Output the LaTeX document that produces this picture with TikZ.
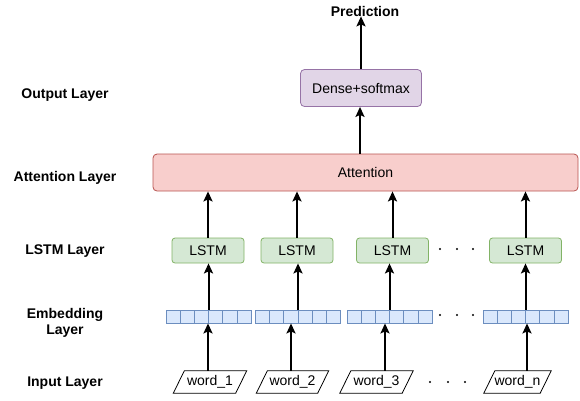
\documentclass[tikz,border=0pt]{standalone}
\usepackage{fontspec}
\setmainfont{Liberation Sans}
\usetikzlibrary{arrows.meta,shapes.geometric,calc}
\definecolor{pfill}{HTML}{E1D5E7}\definecolor{pline}{HTML}{9673A6}
\definecolor{rfill}{HTML}{F8CECC}\definecolor{rline}{HTML}{B85450}
\definecolor{gfill}{HTML}{D5E8D4}\definecolor{gline}{HTML}{82B366}
\definecolor{bfill}{HTML}{DAE8FC}\definecolor{bline}{HTML}{6C8EBF}
\begin{document}
\begin{tikzpicture}[x=1pt,y=-1pt,
  every node/.style={font=\fontsize{14}{16}\selectfont, inner sep=0pt},
  lab/.style={font=\fontsize{14}{16}\selectfont\bfseries, align=center},
  box/.style={draw, rounded corners=4pt, line width=0.8pt},
  densebox/.style={box, fill=pfill, draw=pline, minimum width=121pt, minimum height=37pt},
  attbox/.style={box, fill=rfill, draw=rline, minimum width=425pt, minimum height=37pt},
  lstmbox/.style={box, fill=gfill, draw=gline, minimum width=72pt, minimum height=25pt, rounded corners=3pt},
  embbox/.style={draw=bline, fill=bfill, line width=0.8pt, minimum width=85pt, minimum height=13pt},
  embline/.style={draw=bline, line width=0.8pt},
  wordbox/.style={minimum height=22pt},
  wordedge/.style={draw, line width=0.8pt},
  arr/.style={line width=2pt, -{Stealth[length=10pt,width=9pt,inset=2pt]}},
  dot/.style={circle, fill=black, minimum size=2.4pt}
]
\useasboundingbox (0,0) rectangle (580,400);
% layer labels
\node[lab] (lout) at (65,95) {Output Layer};
\node[lab] (latt) at (65,178) {Attention Layer};
\node[lab] (llstm) at (65,251) {LSTM Layer};
\node[lab] (lemb) at (65,323) {Embedding\\Layer};
\node[lab] (lin) at (65,383) {Input Layer};
% top
\node[lab] (pred) at (365,11) {Prediction};
\node[densebox] (dense) at (361,88) {Dense+softmax};
\node[attbox] (att) at (365.5,172.5) {Attention};
% LSTM
\node[lstmbox] (l1) at (208,250.5) {LSTM};
\node[lstmbox] (l2) at (297,250.5) {LSTM};
\node[lstmbox] (l3) at (392.5,250.5) {LSTM};
\node[lstmbox] (l4) at (525.5,250.5) {LSTM};
% Embedding
\node[embbox] (e1) at (208.5,316.5) {};
\node[embbox] (e2) at (298,316.5) {};
\node[embbox] (e3) at (389.5,316.5) {};
\node[embbox] (e4) at (525.5,316.5) {};
\foreach \e in {e1,e2,e3,e4}{
  \foreach \i in {1,...,5}{
    \draw[embline] ($(\e.south west)!\i/6!(\e.south east)$) -- ($(\e.north west)!\i/6!(\e.north east)$);
  }
}
% words (parallelograms)
\node[wordbox, minimum width=62pt] (w1) at (210,382) {word\_1};
\node[wordbox, minimum width=61pt] (w2) at (292.5,382) {word\_2};
\node[wordbox, minimum width=62pt] (w3) at (376.5,382) {word\_3};
\node[wordbox, minimum width=56pt] (w4) at (517.5,382) {word\_n};
\foreach \w in {w1,w2,w3,w4}{
  \draw[wordedge] ([xshift=-5.5pt]\w.south west) -- ([xshift=5.5pt]\w.north west)
     -- ([xshift=5.5pt]\w.north east) -- ([xshift=-5.5pt]\w.south east) -- cycle;
}
% dots
\foreach \y/\xa/\xb/\xc [count=\k] in {249/440/457/473, 315/440/457/473, 382/430/448/465}{
  \node[dot] (da\k) at (\xa,\y) {};
  \node[dot] (db\k) at (\xb,\y) {};
  \node[dot] (dc\k) at (\xc,\y) {};
}
% arrows
\draw[arr] (dense.north) -- (dense.north |- pred.south);
\draw[arr] ([xshift=-1pt]att.north -| dense.south) -- ([xshift=-1pt]dense.south);
\foreach \l in {l1,l2,l3,l4}{
  \draw[arr] (\l.north) -- (\l.north |- att.south);
}
\foreach \e/\l in {e1/l1,e2/l2,e3/l3,e4/l4}{
  \draw[arr] (\e.north) -- (\e.north |- \l.south);
}
\draw[arr] ([xshift=-2pt]w1.north) -- ([xshift=-2pt]w1.north |- e1.south);
\draw[arr] ([xshift=-1.5pt]w2.north) -- ([xshift=-1.5pt]w2.north |- e2.south);
\draw[arr] ([xshift=8.5pt]w3.north) -- ([xshift=8.5pt]w3.north |- e3.south);
\draw[arr] ([xshift=9.5pt]w4.north) -- ([xshift=9.5pt]w4.north |- e4.south);
\end{tikzpicture}
\end{document}
